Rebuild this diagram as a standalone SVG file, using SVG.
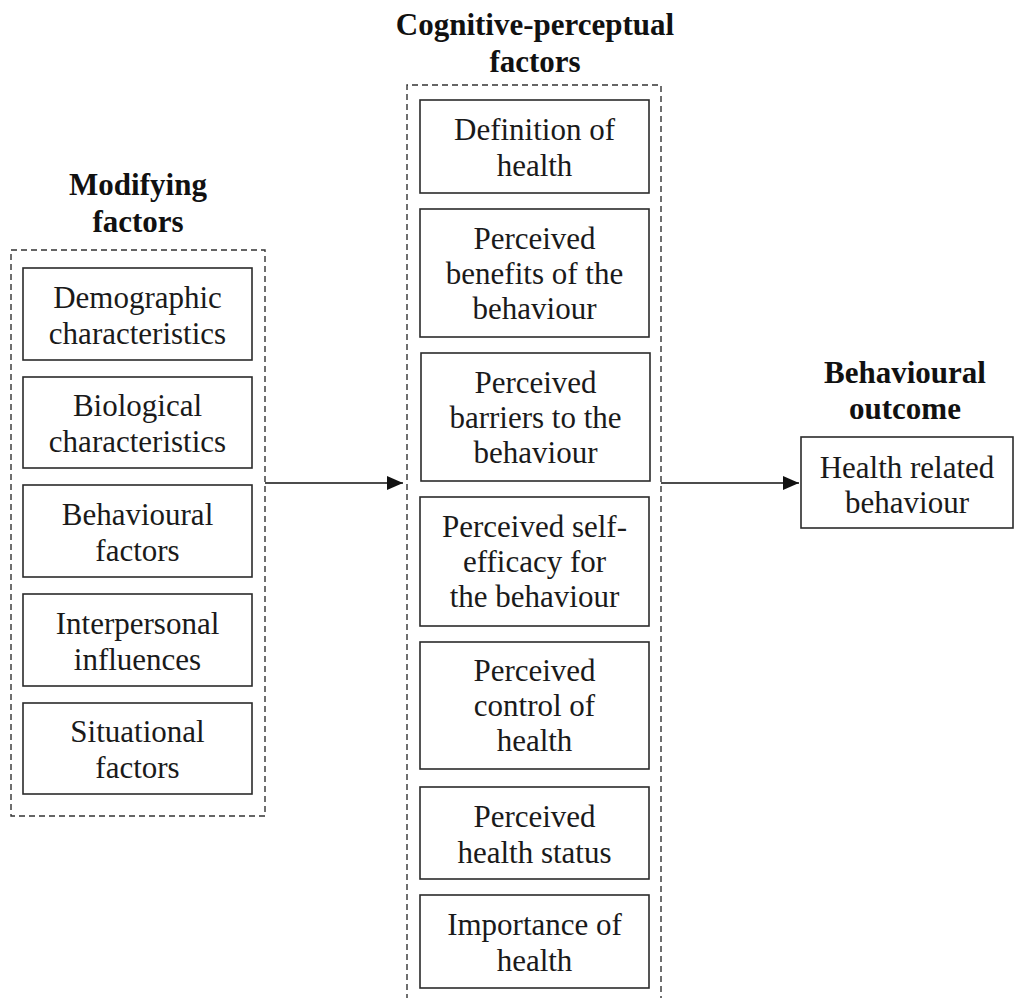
<svg xmlns="http://www.w3.org/2000/svg" width="1019" height="998" viewBox="0 0 1019 998">
  <style>
    .bg { fill: #ffffff; }
    .group { fill: none; stroke: #333333; stroke-width: 1.4; stroke-dasharray: 6 4; }
    .box { fill: #ffffff; stroke: #2b2b2b; stroke-width: 1.6; }
    .head { font-family: "Liberation Serif", "Times New Roman", serif; font-weight: bold; font-size: 31px; fill: #111111; text-anchor: middle; }
    .lbl { font-family: "Liberation Serif", "Times New Roman", serif; font-size: 31px; fill: #1a1a1a; text-anchor: middle; }
    .link { stroke: #111111; stroke-width: 1.5; fill: none; }
  </style>
  <defs>
    <marker id="arrow" viewBox="0 0 16 14" refX="16" refY="7" markerWidth="16" markerHeight="14" markerUnits="userSpaceOnUse" orient="auto">
      <path d="M0,0 L16,7 L0,14 Z" fill="#111111"/>
    </marker>
  </defs>
  <rect class="bg" x="0" y="0" width="1019" height="998"/>

  <!-- Column headings -->
  <g id="heading-modifying">
    <text class="head" x="138" y="195">Modifying</text>
    <text class="head" x="138" y="232">factors</text>
  </g>
  <g id="heading-cognitive">
    <text class="head" x="535" y="35">Cognitive-perceptual</text>
    <text class="head" x="535" y="72">factors</text>
  </g>
  <g id="heading-outcome">
    <text class="head" x="905" y="383">Behavioural</text>
    <text class="head" x="905" y="419">outcome</text>
  </g>

  <!-- Dashed group frames -->
  <g id="frame-modifying"><rect class="group" x="11" y="250" width="254" height="566"/></g>
  <g id="frame-cognitive"><path class="group" d="M407,1000 L407,85 L661,85 L661,1000"/></g>

  <!-- Modifying factors -->
  <g id="demographic">
    <rect class="box" x="23" y="268" width="229" height="92"/>
    <text class="lbl" x="137.5" y="308">Demographic</text>
    <text class="lbl" x="137.5" y="344">characteristics</text>
  </g>
  <g id="biological">
    <rect class="box" x="23" y="377" width="229" height="91"/>
    <text class="lbl" x="137.5" y="416">Biological</text>
    <text class="lbl" x="137.5" y="452">characteristics</text>
  </g>
  <g id="behavioural-factors">
    <rect class="box" x="23" y="485" width="229" height="92"/>
    <text class="lbl" x="137.5" y="525">Behavioural</text>
    <text class="lbl" x="137.5" y="561">factors</text>
  </g>
  <g id="interpersonal">
    <rect class="box" x="23" y="594" width="229" height="92"/>
    <text class="lbl" x="137.5" y="634">Interpersonal</text>
    <text class="lbl" x="137.5" y="670">influences</text>
  </g>
  <g id="situational">
    <rect class="box" x="23" y="703" width="229" height="91"/>
    <text class="lbl" x="137.5" y="742">Situational</text>
    <text class="lbl" x="137.5" y="778">factors</text>
  </g>

  <!-- Cognitive-perceptual factors -->
  <g id="definition">
    <rect class="box" x="420" y="100" width="229" height="93"/>
    <text class="lbl" x="534.5" y="140">Definition of</text>
    <text class="lbl" x="534.5" y="176">health</text>
  </g>
  <g id="benefits">
    <rect class="box" x="420" y="209" width="229" height="128"/>
    <text class="lbl" x="534.5" y="249">Perceived</text>
    <text class="lbl" x="534.5" y="284">benefits of the</text>
    <text class="lbl" x="534.5" y="319">behaviour</text>
  </g>
  <g id="barriers">
    <rect class="box" x="421" y="353" width="229" height="128"/>
    <text class="lbl" x="535.5" y="393">Perceived</text>
    <text class="lbl" x="535.5" y="428">barriers to the</text>
    <text class="lbl" x="535.5" y="463">behaviour</text>
  </g>
  <g id="self-efficacy">
    <rect class="box" x="420" y="497" width="229" height="129"/>
    <text class="lbl" x="534.5" y="537">Perceived self-</text>
    <text class="lbl" x="534.5" y="572">efficacy for</text>
    <text class="lbl" x="534.5" y="607">the behaviour</text>
  </g>
  <g id="control">
    <rect class="box" x="420" y="642" width="229" height="127"/>
    <text class="lbl" x="534.5" y="681">Perceived</text>
    <text class="lbl" x="534.5" y="716">control of</text>
    <text class="lbl" x="534.5" y="751">health</text>
  </g>
  <g id="health-status">
    <rect class="box" x="420" y="787" width="229" height="92"/>
    <text class="lbl" x="534.5" y="827">Perceived</text>
    <text class="lbl" x="534.5" y="863">health status</text>
  </g>
  <g id="importance">
    <rect class="box" x="420" y="895" width="229" height="93"/>
    <text class="lbl" x="534.5" y="935">Importance of</text>
    <text class="lbl" x="534.5" y="971">health</text>
  </g>

  <!-- Behavioural outcome -->
  <g id="health-behaviour">
    <rect class="box" x="801" y="437" width="212" height="91"/>
    <text class="lbl" x="907" y="478">Health related</text>
    <text class="lbl" x="907" y="513">behaviour</text>
  </g>

  <!-- Connectors -->
  <g id="connectors">
    <line class="link" x1="265" y1="483" x2="403" y2="483" marker-end="url(#arrow)"/>
    <line class="link" x1="661" y1="483" x2="799" y2="483" marker-end="url(#arrow)"/>
  </g>
</svg>
